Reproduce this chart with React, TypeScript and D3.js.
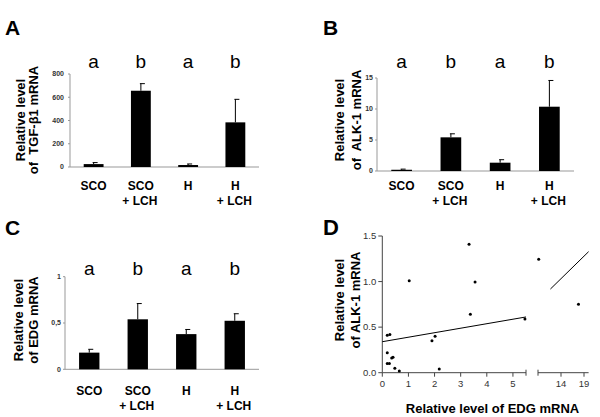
import React from 'react';
import * as d3 from 'd3';

// groups and significance letters shared by panels A-C
const groupLine1 = ['SCO', 'SCO', 'H', 'H'];
const groupLine2 = ['', '+ LCH', '', '+ LCH'];
const sigLetters = ['a', 'b', 'a', 'b'];

// A: TGF-b1 mRNA
const tgfMean = [25, 656, 17, 384];
const tgfSem = [13, 61, 9, 198];
const tgfTicks = [0, 200, 400, 600, 800];

// B: ALK-1 mRNA
const alkMean = [0.2, 5.43, 1.34, 10.37];
const alkSem = [0.1, 0.57, 0.48, 4.23];
const alkTicks = [0, 5, 10, 15];

// C: EDG mRNA
const edgMean = [0.18, 0.54, 0.38, 0.524];
const edgSem = [0.036, 0.17, 0.05, 0.076];
const edgTicks = [0, 0.5, 1];
const edgTickLabels = ['0', '0,5', '1'];

// D: EDG vs ALK-1 scatter
const scatterEdg = [0.19, 0.29, 0.19, 0.19, 0.27, 0.36, 0.41, 0.48, 0.65, 1.03, 1.9, 2.02, 2.18, 3.32, 3.55, 3.37, 5.46, 9.15, 17.8];
const scatterAlk = [0.41, 0.42, 0.22, 0.1, 0.1, 0.16, 0.17, 0.05, 0.02, 1.01, 0.35, 0.4, 0.04, 1.41, 0.995, 0.64, 0.59, 1.245, 0.75];
const xTicksLow = [0, 1, 2, 3, 4, 5];
const xTicksHigh = [14, 19];
const yTicksD = [0, 0.5, 1.0, 1.5];
const fitIntercept = 0.34;
const fitSlope = 0.0494;

const FONT = 'Liberation Sans, Arial, Helvetica, sans-serif';

interface BarPanelProps {
  letter: string;
  letterX: number;
  letterY: number;
  x0: number;
  x1: number;
  yZero: number;
  yTop: number;
  max: number;
  means: number[];
  sems: number[];
  ticks: number[];
  tickLabels?: string[];
  labelGap: number;
  titleLines: string[];
  titleX: number[];
  titleY: number;
  sigY: number;
  catY: number;
}

const BarPanel = (p: BarPanelProps) => {
  const x = d3.scaleBand<number>().domain(d3.range(p.means.length)).range([p.x0, p.x1]).paddingInner(0.58).paddingOuter(0.29);
  const y = d3.scaleLinear().domain([0, p.max]).range([p.yZero, p.yTop]);
  const bw = x.bandwidth();
  return (
    <g>
      <text x={p.letterX} y={p.letterY} fontSize={21} fontWeight="bold">{p.letter}</text>
      {p.titleLines.map((t, i) => (
        <text key={t} transform={`translate(${p.titleX[i]},${p.titleY}) rotate(-90)`} textAnchor="middle"
          dy="0.35em" fontSize={13} fontWeight="bold" style={{ whiteSpace: 'pre' }}>{t}</text>
      ))}
      <line x1={p.x0} x2={p.x0} y1={y(p.max)} y2={p.yZero} stroke="#999" />
      <line x1={p.x0} x2={p.x1} y1={p.yZero} y2={p.yZero} stroke="#999" />
      {p.ticks.map((t, i) => (
        <g key={t}>
          <line x1={p.x0 - 2} x2={p.x0} y1={y(t)} y2={y(t)} stroke="#999" />
          <text x={p.x0 - p.labelGap} y={y(t)} dy="0.35em" textAnchor="end" fontSize={7} fontWeight="bold" fill="#333">
            {p.tickLabels ? p.tickLabels[i] : String(t)}
          </text>
        </g>
      ))}
      {p.means.map((m, i) => {
        const cx = (x(i) ?? 0) + bw / 2;
        return (
          <g key={i}>
            <line x1={cx} x2={cx} y1={y(m)} y2={y(m + p.sems[i])} stroke="#000" />
            <line x1={cx - 1} x2={cx + 4} y1={y(m + p.sems[i])} y2={y(m + p.sems[i])} stroke="#000" />
            <rect x={x(i)} y={y(m)} width={bw} height={p.yZero - y(m)} fill="#000" />
            <text x={cx} y={p.sigY} textAnchor="middle" fontSize={19}>{sigLetters[i]}</text>
            <text x={cx} y={p.catY} textAnchor="middle" fontSize={12} fontWeight="bold">{groupLine1[i]}</text>
            <text x={cx - 1} y={p.catY + 15} textAnchor="middle" fontSize={12} fontWeight="bold">{groupLine2[i]}</text>
          </g>
        );
      })}
    </g>
  );
};

const ScatterPanel = () => {
  const y = d3.scaleLinear().domain([0, 1.5]).range([372.7, 236]);
  const xLow = d3.scaleLinear().domain([0, 5.5]).range([382.3, 526]);
  const xHigh = d3.scaleLinear().domain([9, 20]).range([538, 588.6]);
  const xPos = (v: number) => (v <= 5.5 ? xLow(v) : xHigh(v));
  const fit = (v: number) => fitIntercept + fitSlope * v;
  const line = d3.line<number>().x(xPos).y(v => y(fit(v)));
  const y0 = y(0);
  return (
    <g fontFamily={FONT}>
      <text x={323} y={235} fontSize={22} fontWeight="bold">D</text>
      {['Relative level', 'of ALK-1 mRNA'].map((t, i) => (
        <text key={t} transform={`translate(${[339, 355][i]},300) rotate(-90)`} textAnchor="middle" dy="0.35em"
          fontSize={13} fontWeight="bold">{t}</text>
      ))}
      <line x1={xLow(0)} x2={xLow(0)} y1={y(1.5)} y2={y0} stroke="#444" />
      {yTicksD.map(t => (
        <g key={t}>
          <line x1={xLow(0) - 4} x2={xLow(0)} y1={y(t)} y2={y(t)} stroke="#444" />
          <text x={xLow(0) - 6} y={y(t)} dy="0.35em" textAnchor="end" fontSize={9.5} fill="#333">{t.toFixed(1)}</text>
        </g>
      ))}
      <line x1={xLow(0)} x2={xLow(5.5)} y1={y0} y2={y0} stroke="#444" />
      <line x1={xLow(5.5)} x2={xLow(5.5)} y1={y0 - 3} y2={y0 + 3} stroke="#444" />
      <line x1={xHigh(9)} x2={xHigh(20)} y1={y0} y2={y0} stroke="#444" />
      <line x1={xHigh(9)} x2={xHigh(9)} y1={y0 - 3} y2={y0 + 3} stroke="#444" />
      {xTicksLow.map(t => (
        <g key={t}>
          <line x1={xLow(t)} x2={xLow(t)} y1={y0} y2={y0 + 4} stroke="#444" />
          <text x={xLow(t)} y={387} textAnchor="middle" fontSize={9.5} fill="#333">{t}</text>
        </g>
      ))}
      {xTicksHigh.map(t => (
        <g key={t}>
          <line x1={xHigh(t)} x2={xHigh(t)} y1={y0} y2={y0 + 4} stroke="#444" />
          <text x={xHigh(t)} y={387} textAnchor="middle" fontSize={9.5} fill="#333">{t}</text>
        </g>
      ))}
      <path d={line([0, 5.5]) ?? ''} stroke="#000" fill="none" />
      <path d={line([11.7, 20]) ?? ''} stroke="#000" fill="none" />
      {scatterEdg.map((v, i) => (
        <circle key={i} cx={xPos(v)} cy={y(scatterAlk[i])} r={1.5} fill="#000" />
      ))}
      <text x={492.5} y={412.5} textAnchor="middle" fontSize={13} fontWeight="bold">Relative level of EDG mRNA</text>
    </g>
  );
};

export default function App() {
  return (
    <svg width={600} height={417} style={{ position: 'absolute', left: 0, top: 0, background: '#fff' }} fontFamily={FONT}>
      <BarPanel letter="A" letterX={5} letterY={35} x0={70} x1={259} yZero={167} yTop={74} max={800}
        means={tgfMean} sems={tgfSem} ticks={tgfTicks} labelGap={6}
        titleLines={['Relative level', 'of  TGF-\u03b21 mRNA']} titleX={[20, 33]} titleY={120} sigY={68} catY={190} />
      <BarPanel letter="B" letterX={323} letterY={35} x0={377} x1={574} yZero={171} yTop={78} max={15}
        means={alkMean} sems={alkSem} ticks={alkTicks} labelGap={4}
        titleLines={['Relative level', 'of  ALK-1 mRNA']} titleX={[339, 356]} titleY={120} sigY={68} catY={190} />
      <BarPanel letter="C" letterX={5} letterY={235} x0={65} x1={259} yZero={369.3} yTop={276.7} max={1}
        means={edgMean} sems={edgSem} ticks={edgTicks} tickLabels={edgTickLabels} labelGap={4}
        titleLines={['Relative level', 'of EDG mRNA']} titleX={[18, 33]} titleY={320} sigY={275} catY={395} />
      <ScatterPanel />
    </svg>
  );
}
